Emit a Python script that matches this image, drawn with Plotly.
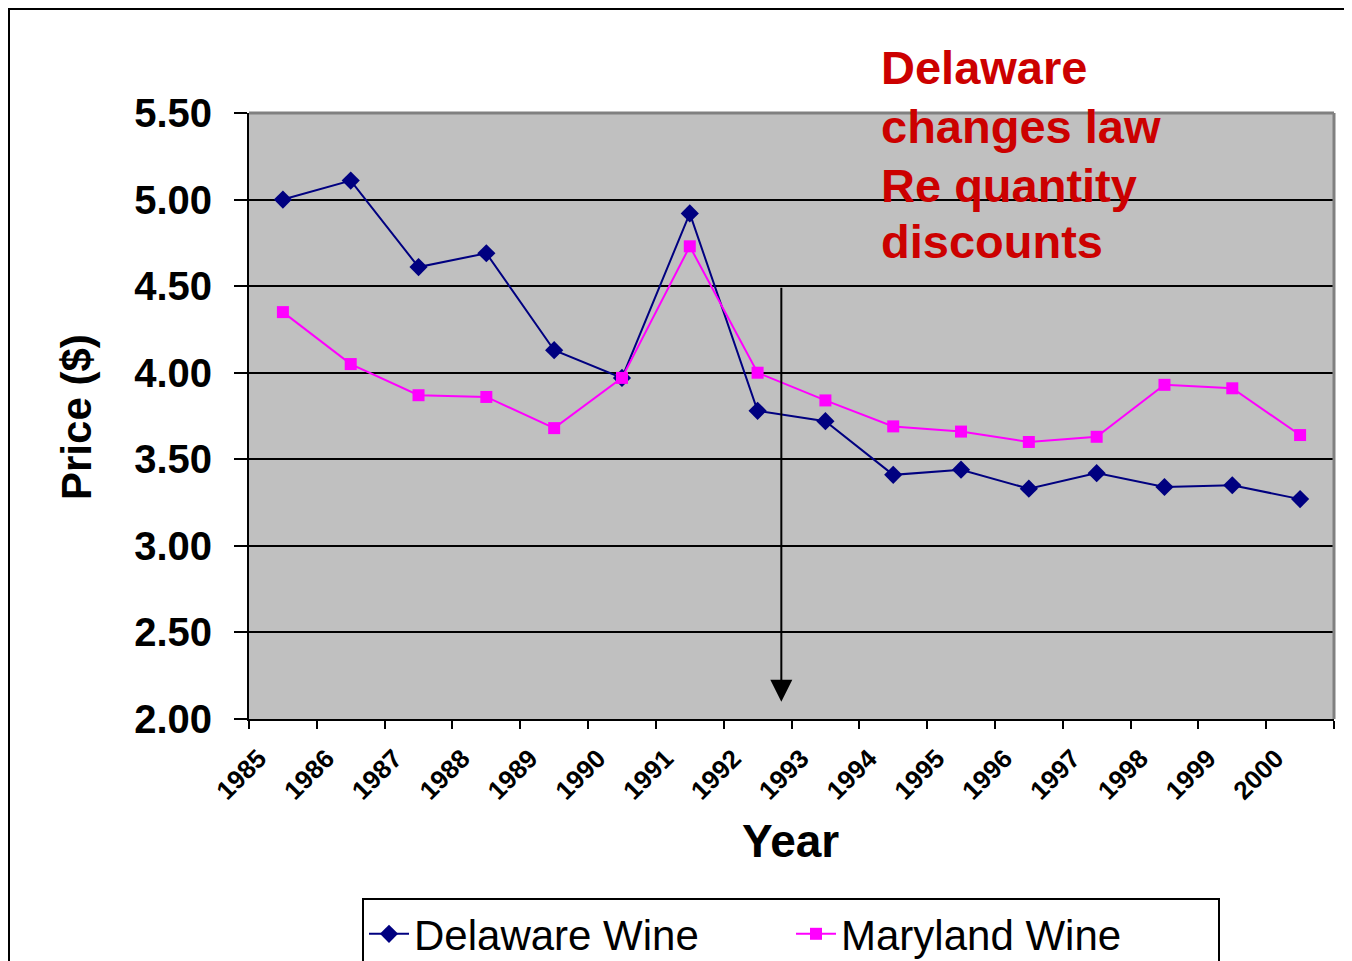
import plotly.graph_objects as go

years = [str(y) for y in range(1985, 2001)]
delaware = [5.00, 5.11, 4.61, 4.69, 4.13, 3.97, 4.92, 3.78, 3.72, 3.41, 3.44, 3.33, 3.42, 3.34, 3.35, 3.27]
maryland = [4.35, 4.05, 3.87, 3.86, 3.68, 3.97, 4.73, 4.00, 3.84, 3.69, 3.66, 3.60, 3.63, 3.93, 3.91, 3.64]

arrow_x = 7.35
arrow_top = 4.50
arrow_tip = 2.10
note_lines = ["Delaware", "changes law", "Re quantity", "discounts"]

# screen coordinates (page body has an 8px default margin)
OFF = 8
SW, SH = 1352, 961
L, R, T, B = 249, 1334, 113, 719
pw, ph = R - L, B - T

def px(x):
    return (x - L) / pw

def py(y):
    return (B - y) / ph

FONT = "Liberation Sans, Arial, sans-serif"

fig = go.Figure()
fig.add_trace(go.Scatter(
    x=years, y=delaware, name="Delaware Wine", mode="lines+markers",
    line=dict(color="#000080", width=2),
    marker=dict(symbol="diamond", size=14, color="#000080"),
))
fig.add_trace(go.Scatter(
    x=years, y=maryland, name="Maryland Wine", mode="lines+markers",
    line=dict(color="#FF00FF", width=2),
    marker=dict(symbol="square", size=12, color="#FF00FF"),
))

fig.update_layout(
    width=SW - OFF, height=SH - OFF,
    margin=dict(l=L - OFF, r=SW - R, t=T - OFF, b=SH - B, autoexpand=False),
    paper_bgcolor="white",
    plot_bgcolor="#C0C0C0",
    font=dict(family=FONT, color="black"),
    showlegend=True,
    legend=dict(
        orientation="h", x=px(362), y=py(898), xanchor="left", yanchor="top",
        bordercolor="black", borderwidth=2, bgcolor="white",
        font=dict(size=42, family=FONT), itemwidth=40,
        entrywidth=372, valign="middle",
    ),
    xaxis=dict(
        type="category", tickson="boundaries", ticks="outside", ticklen=8,
        tickwidth=2, tickcolor="black", showline=True, linecolor="black", linewidth=2,
        showgrid=False, tickangle=-45, ticklabelshift=-24, ticklabelstandoff=12,
        tickfont=dict(size=26, family=FONT, weight="bold"),
        range=[-0.5, 15.5],
    ),
    yaxis=dict(
        range=[2.0, 5.5], dtick=0.5, tick0=2.0, tickformat=".2f",
        ticks="outside", ticklen=13, tickwidth=2, tickcolor="black",
        showline=True, linecolor="black", linewidth=2,
        showgrid=True, gridcolor="black", gridwidth=2,
        tickfont=dict(size=40, family=FONT, weight="bold"),
        ticklabelstandoff=14, zeroline=False,
    ),
)

# plot area border (top/right gray)
fig.add_shape(type="line", xref="paper", yref="paper", x0=0, x1=1, y0=1, y1=1,
              line=dict(color="#808080", width=3))
fig.add_shape(type="line", xref="paper", yref="paper", x0=1, x1=1, y0=0, y1=1,
              line=dict(color="#808080", width=3))
# outer chart border
fig.add_shape(type="rect", xref="paper", yref="paper",
              x0=px(9), x1=px(1362), y0=py(975), y1=py(9),
              line=dict(color="black", width=2), fillcolor="rgba(0,0,0,0)")

# axis titles
fig.add_annotation(text="<b>Price ($)</b>", xref="paper", yref="paper",
                   x=px(76), y=py(417), xanchor="center", yanchor="middle",
                   textangle=-90, showarrow=False,
                   font=dict(size=42, family=FONT, color="black"))
fig.add_annotation(text="<b>Year</b>", xref="paper", yref="paper",
                   x=px(790), y=py(841), xanchor="center", yanchor="middle",
                   showarrow=False,
                   font=dict(size=46, family=FONT, color="black"))

# red note, one line each
line_centers = [68, 127, 185, 242]
for txt, yc in zip(note_lines, line_centers):
    fig.add_annotation(text="<b>" + txt + "</b>", xref="paper", yref="paper",
                       x=px(879), y=py(yc), xanchor="left", yanchor="middle",
                       align="left", showarrow=False,
                       font=dict(size=47, family=FONT, color="#CC0000"))

# arrow
fig.add_annotation(x=arrow_x, y=arrow_tip, ax=arrow_x, ay=arrow_top,
                   xref="x", yref="y", axref="x", ayref="y", text="",
                   showarrow=True, arrowhead=2, arrowsize=2.2, arrowwidth=2,
                   arrowcolor="black")

fig.write_html("out.html")
